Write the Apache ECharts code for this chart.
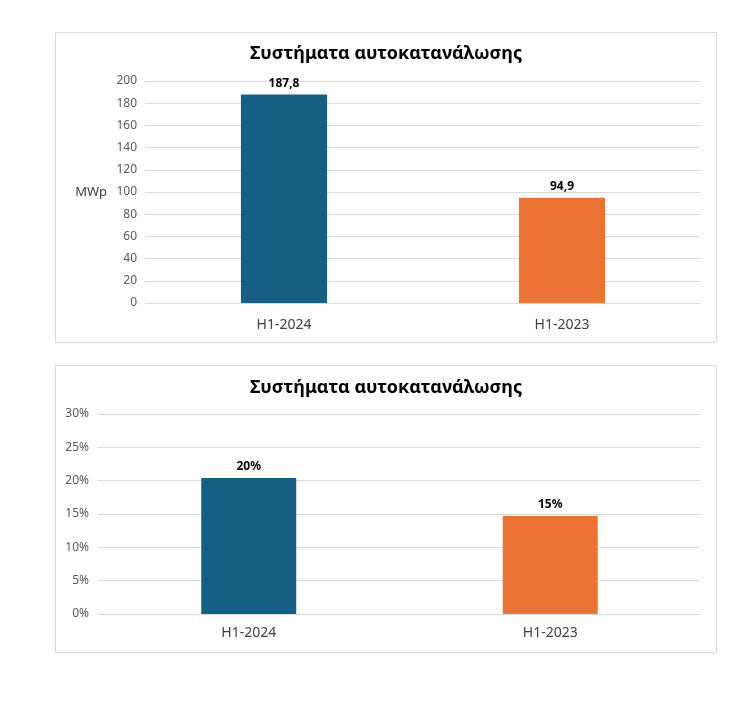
<!DOCTYPE html>
<html><head><meta charset="utf-8">
<script src="https://cdn.jsdelivr.net/npm/echarts@6/dist/echarts.min.js"></script>
<style>html,body{margin:0;padding:0;background:#fff}#c{width:745px;height:705px}</style>
</head><body><div id="c"></div>
<script>
const categories = ['H1-2024', 'H1-2023'];
const capacityMWp = [187.8, 94.9];
const sharePct = [20.4, 14.7];
const capacityTicks = [0, 200, 20];
const shareTicks = [0, 30, 5];
const titleText = 'Συστήματα αυτοκατανάλωσης';
const colors = ['#175f82', '#ea7335'];

const FONT = 'Noto Sans';
const chart = echarts.init(document.getElementById('c'));
function barData(vals){ return vals.map((v,i)=>({value:v, itemStyle:{color:colors[i]}})); }
const titleStyle = {text:titleText, fontFamily:FONT, fontSize:18, fontWeight:'bold', fill:'#000', align:'center', verticalAlign:'middle'};
chart.setOption({
  animation:false,
  backgroundColor:'#fff',
  graphic:[
    {type:'rect', shape:{x:55.5,y:32.5,width:661,height:310}, style:{fill:'none',stroke:'#d9d9d9',lineWidth:1}},
    {type:'rect', shape:{x:55.5,y:365.5,width:661,height:287}, style:{fill:'none',stroke:'#d9d9d9',lineWidth:1}},
    {type:'text', x:386, y:54, style:titleStyle},
    {type:'text', x:386, y:388, style:titleStyle}
  ],
  grid:[
    {left:145, right:44, top:81, bottom:402},
    {left:98, right:44, top:414, bottom:91}
  ],
  xAxis:[
    {type:'category', gridIndex:0, data:categories, axisLine:{show:false}, axisTick:{show:false},
     axisLabel:{margin:15, fontFamily:FONT, fontSize:14, color:'#404040'}},
    {type:'category', gridIndex:1, data:categories, axisLine:{show:false}, axisTick:{show:false},
     axisLabel:{margin:12, fontFamily:FONT, fontSize:14, color:'#404040'}}
  ],
  yAxis:[
    {type:'value', gridIndex:0, min:capacityTicks[0], max:capacityTicks[1], interval:capacityTicks[2],
     name:'MWp', nameLocation:'middle', nameRotate:0, nameGap:38,
     nameTextStyle:{fontFamily:FONT, fontSize:13, color:'#404040'},
     axisLabel:{margin:8, fontFamily:FONT, fontSize:12, color:'#595959'},
     splitLine:{lineStyle:{color:'#d9d9d9',width:1}}},
    {type:'value', gridIndex:1, min:shareTicks[0], max:shareTicks[1], interval:shareTicks[2],
     axisLabel:{margin:9, fontFamily:FONT, fontSize:12, color:'#595959', formatter:'{value}%'},
     splitLine:{lineStyle:{color:'#d9d9d9',width:1}}}
  ],
  series:[
    {type:'bar', xAxisIndex:0, yAxisIndex:0, data:barData(capacityMWp), barWidth:'31%',
     label:{show:true, position:'top', distance:5, fontFamily:FONT, fontSize:12, fontWeight:'bold', color:'#000',
       formatter:p=>p.value.toFixed(1).replace('.',',')}},
    {type:'bar', xAxisIndex:1, yAxisIndex:1, data:barData(sharePct), barWidth:'31.5%',
     label:{show:true, position:'top', distance:5, fontFamily:FONT, fontSize:12, fontWeight:'bold', color:'#000',
       formatter:p=>Math.round(p.value)+'%'}}
  ]
});
</script></body></html>
